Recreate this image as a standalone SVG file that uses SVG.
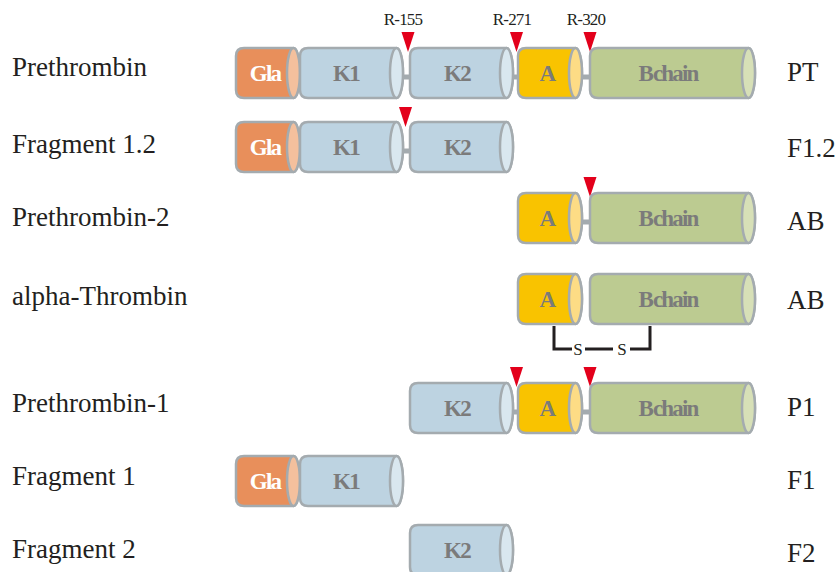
<svg xmlns="http://www.w3.org/2000/svg" xmlns:xlink="http://www.w3.org/1999/xlink" width="837" height="572" viewBox="0 0 837 572">
<style>
.lbl{font-family:"Liberation Serif","Times New Roman",serif;font-size:27px;fill:#231f20}
.rl{font-family:"Liberation Serif","Times New Roman",serif;font-size:27px;fill:#231f20}
.site{font-family:"Liberation Serif","Times New Roman",serif;font-size:17px;fill:#231f20;text-anchor:middle;letter-spacing:-0.8px}
.in{font-family:"Liberation Serif","Times New Roman",serif;font-size:23px;font-weight:bold;fill:#7b7b7b;text-anchor:middle;letter-spacing:-1.8px}
.bc{word-spacing:-3px}
.gla{fill:#ffffff}
.cs{stroke:#a4abaf;stroke-width:2.5}
.link{stroke:#a4abaf;stroke-width:5}
.cut{fill:#e3001b}
.ss{fill:none;stroke:#231f20;stroke-width:3}
.s{font-family:"Liberation Serif","Times New Roman",serif;font-size:17px;fill:#231f20;text-anchor:middle}
</style>
<defs>
<g id="cGla" class="cs"><path fill="#e88f5b" d="M244,-25 H293.5 A6.5,25 0 0 1 293.5,25 H244 Q236,25 236,17 V-17 Q236,-25 244,-25Z"/><ellipse fill="#f4c09d" cx="293.5" cy="0" rx="6.5" ry="25"/></g>
<g id="cK1" class="cs"><path fill="#bdd3e1" d="M308,-25 H396.5 A6.5,25 0 0 1 396.5,25 H308 Q300,25 300,17 V-17 Q300,-25 308,-25Z"/><ellipse fill="#d9e7ef" cx="396.5" cy="0" rx="6.5" ry="25"/></g>
<g id="cK2" class="cs"><path fill="#bdd3e1" d="M418,-25 H506.5 A6.5,25 0 0 1 506.5,25 H418 Q410,25 410,17 V-17 Q410,-25 418,-25Z"/><ellipse fill="#d9e7ef" cx="506.5" cy="0" rx="6.5" ry="25"/></g>
<g id="cA" class="cs"><path fill="#f9c300" d="M526,-25 H575.5 A6.5,25 0 0 1 575.5,25 H526 Q518,25 518,17 V-17 Q518,-25 526,-25Z"/><ellipse fill="#fddc85" cx="575.5" cy="0" rx="6.5" ry="25"/></g>
<g id="cB" class="cs"><path fill="#bccb91" d="M598,-25 H748.5 A6.5,25 0 0 1 748.5,25 H598 Q590,25 590,17 V-17 Q590,-25 598,-25Z"/><ellipse fill="#d7e0b7" cx="748.5" cy="0" rx="6.5" ry="25"/></g>
</defs>
<rect width="837" height="572" fill="#ffffff"/>

<g id="connectors">
<line class="link" x1="400" y1="77" x2="412" y2="77"/>
<line class="link" x1="510" y1="77" x2="520" y2="77"/>
<line class="link" x1="579" y1="77" x2="592" y2="77"/>
<line class="link" x1="400" y1="151" x2="412" y2="151"/>
<line class="link" x1="579" y1="222" x2="592" y2="222"/>
<line class="link" x1="510" y1="412" x2="520" y2="412"/>
<line class="link" x1="579" y1="412" x2="592" y2="412"/>
<polyline class="ss" points="554,326 554,349 572,349"/>
<line class="ss" x1="585" y1="349" x2="613" y2="349"/>
<polyline class="ss" points="630,349 650,349 650,326"/>
<text class="s" x="578" y="355">S</text>
<text class="s" x="622" y="355">S</text>
</g>

<g id="sites">
<text class="site" x="403" y="25">R-155</text>
<text class="site" x="512" y="25">R-271</text>
<text class="site" x="586" y="25">R-320</text>
<polygon class="cut" points="401.5,32 414.5,32 408,52"/>
<polygon class="cut" points="510,32 523,32 516.5,52"/>
<polygon class="cut" points="583.5,32 596.5,32 590,52"/>
<polygon class="cut" points="399,107 412,107 405.5,127"/>
<polygon class="cut" points="583.5,177 596.5,177 590,197"/>
<polygon class="cut" points="510,367 523,367 516.5,387"/>
<polygon class="cut" points="583.5,367 596.5,367 590,387"/>
</g>

<g id="row-pt">
<text class="lbl" x="12" y="76">Prethrombin</text>
<use xlink:href="#cGla" y="73"/><use xlink:href="#cK1" y="73"/><use xlink:href="#cK2" y="73"/><use xlink:href="#cA" y="73"/><use xlink:href="#cB" y="73"/>
<text class="in gla" x="265" y="81">Gla</text>
<text class="in" x="346" y="81">K1</text>
<text class="in" x="457" y="81">K2</text>
<text class="in" x="547" y="81">A</text>
<text class="in bc" x="668" y="81">B chain</text>
<text class="rl" x="787" y="81">PT</text>
</g>

<g id="row-f12">
<text class="lbl" x="12" y="153">Fragment 1.2</text>
<use xlink:href="#cGla" y="147"/><use xlink:href="#cK1" y="147"/><use xlink:href="#cK2" y="147"/>
<text class="in gla" x="265" y="155">Gla</text>
<text class="in" x="346" y="155">K1</text>
<text class="in" x="457" y="155">K2</text>
<text class="rl" x="787" y="157">F1.2</text>
</g>

<g id="row-p2">
<text class="lbl" x="12" y="226">Prethrombin-2</text>
<use xlink:href="#cA" y="218"/><use xlink:href="#cB" y="218"/>
<text class="in" x="547" y="226">A</text>
<text class="in bc" x="668" y="226">B chain</text>
<text class="rl" x="787" y="230">AB</text>
</g>

<g id="row-at">
<text class="lbl" x="12" y="305">alpha-Thrombin</text>
<use xlink:href="#cA" y="299"/><use xlink:href="#cB" y="299"/>
<text class="in" x="547" y="307">A</text>
<text class="in bc" x="668" y="307">B chain</text>
<text class="rl" x="787" y="309">AB</text>
</g>

<g id="row-p1">
<text class="lbl" x="12" y="412">Prethrombin-1</text>
<use xlink:href="#cK2" y="408"/><use xlink:href="#cA" y="408"/><use xlink:href="#cB" y="408"/>
<text class="in" x="457" y="416">K2</text>
<text class="in" x="547" y="416">A</text>
<text class="in bc" x="668" y="416">B chain</text>
<text class="rl" x="787" y="416">P1</text>
</g>

<g id="row-f1">
<text class="lbl" x="12" y="485">Fragment 1</text>
<use xlink:href="#cGla" y="481"/><use xlink:href="#cK1" y="481"/>
<text class="in gla" x="265" y="489">Gla</text>
<text class="in" x="346" y="489">K1</text>
<text class="rl" x="787" y="489">F1</text>
</g>

<g id="row-f2">
<text class="lbl" x="12" y="558">Fragment 2</text>
<use xlink:href="#cK2" y="550"/>
<text class="in" x="457" y="558">K2</text>
<text class="rl" x="787" y="562">F2</text>
</g>
</svg>
